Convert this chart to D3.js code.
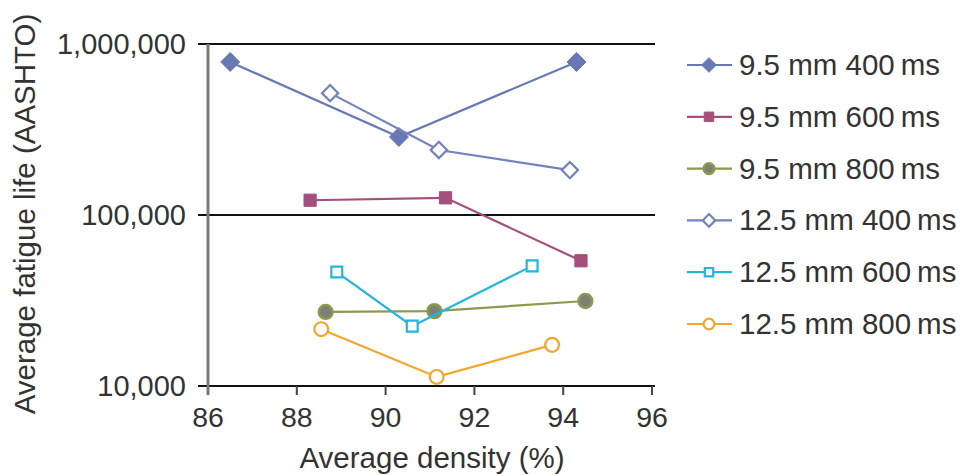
<!DOCTYPE html>
<html>
<head>
<meta charset="utf-8">
<script src="https://cdn.jsdelivr.net/npm/d3@7"></script>
<style>
  body { margin: 0; background: #fff; }
  svg { display: block; font-family: "Liberation Sans", Arial, sans-serif; }
</style>
</head>
<body>
<svg id="chart" width="963" height="475"></svg>
<script>
// series labels and data
var series_names = ["9.5 mm 400\u2009ms", "9.5 mm 600\u2009ms", "9.5 mm 800\u2009ms",
                    "12.5 mm 400\u2009ms", "12.5 mm 600\u2009ms", "12.5 mm 800\u2009ms"];
var density_95_400 = [86.5, 90.3, 94.3];
var life_95_400 = [785000, 286000, 785000];
var density_95_600 = [88.3, 91.35, 94.4];
var life_95_600 = [122000, 126000, 54000];
var density_95_800 = [88.65, 91.1, 94.5];
var life_95_800 = [27100, 27400, 31400];
var density_125_400 = [88.75, 91.2, 94.15];
var life_125_400 = [516000, 240000, 183000];
var density_125_600 = [88.9, 90.6, 93.3];
var life_125_600 = [46400, 22400, 50400];
var density_125_800 = [88.55, 91.15, 93.75];
var life_125_800 = [21500, 11300, 17400];
var x_ticks = [86, 88, 90, 92, 94, 96];
var y_ticks = [10000, 100000, 1000000];

var styles = [
    {color: "#6878b4", shape: d3.symbolDiamond2, fill: true, size: 230},
    {color: "#a44f7c", shape: d3.symbolSquare2, fill: true, size: 190},
    {color: "#8c9a4c", shape: d3.symbolCircle, fill: true, size: 150, inner: "#7d8078"},
    {color: "#7283bd", shape: d3.symbolDiamond2, fill: false, size: 170},
    {color: "#23b6dc", shape: d3.symbolSquare2, fill: false, size: 150},
    {color: "#f5a52c", shape: d3.symbolCircle, fill: false, size: 150}
];

var xs = [density_95_400, density_95_600, density_95_800, density_125_400, density_125_600, density_125_800];
var ys = [life_95_400, life_95_600, life_95_800, life_125_400, life_125_600, life_125_800];
var data = series_names.map((name, i) => ({
    name: name,
    style: styles[i],
    points: xs[i].map((x, j) => ({x: x, y: ys[i][j]}))
}));

var svg = d3.select("#chart");
var x = d3.scaleLinear().domain([86, 96]).range([208, 652]);
var y = d3.scaleLog().domain([10000, 1000000]).range([386, 44]);
var fmt = d3.format(",");

// horizontal gridlines, extending past the y axis as ticks
svg.append("g").selectAll("line")
    .data(y_ticks)
    .join("line")
    .attr("x1", 198).attr("x2", 655)
    .attr("y1", d => y(d)).attr("y2", d => y(d))
    .attr("stroke", "#111").attr("stroke-width", 2);

// y axis line
svg.append("line")
    .attr("x1", x(86)).attr("x2", x(86))
    .attr("y1", y(1000000)).attr("y2", 395)
    .attr("stroke", "#7a7a7a").attr("stroke-width", 3);

// x ticks (downward)
svg.append("g").selectAll("line")
    .data(x_ticks.slice(1))
    .join("line")
    .attr("x1", d => x(d)).attr("x2", d => x(d))
    .attr("y1", y(10000)).attr("y2", 395)
    .attr("stroke", "#444").attr("stroke-width", 2);

svg.append("g").selectAll("text")
    .data(y_ticks)
    .join("text")
    .attr("x", 186).attr("y", d => y(d) + 10)
    .attr("text-anchor", "end")
    .attr("font-size", 29)
    .attr("fill", "#333")
    .text(d => fmt(d));

svg.append("g").selectAll("text")
    .data(x_ticks)
    .join("text")
    .attr("x", d => x(d)).attr("y", 427)
    .attr("text-anchor", "middle")
    .attr("font-size", 28.5)
    .attr("fill", "#333")
    .text(d => d);

svg.append("text")
    .attr("x", 432).attr("y", 468)
    .attr("text-anchor", "middle")
    .attr("font-size", 29.5)
    .attr("fill", "#333")
    .text("Average density (%)");

svg.append("text")
    .attr("transform", "translate(35,214) rotate(-90)")
    .attr("text-anchor", "middle")
    .attr("font-size", 29.5)
    .attr("fill", "#333")
    .text("Average fatigue life (AASHTO)");

var line = d3.line().x(d => x(d.x)).y(d => y(d.y));

function drawMarker(sel, st, scale) {
    sel.attr("d", d3.symbol().type(st.shape).size(st.size * scale))
        .attr("fill", st.fill ? (st.inner || st.color) : "#fff")
        .attr("stroke", st.color)
        .attr("stroke-width", st.fill ? (st.inner ? 2.5 : 1) : 2.2);
}

var groups = svg.append("g").selectAll("g")
    .data(data)
    .join("g");

groups.append("path")
    .attr("d", d => line(d.points))
    .attr("fill", "none")
    .attr("stroke", d => d.style.color)
    .attr("stroke-width", 2.2);

groups.each(function(d) {
    d3.select(this).selectAll("path.mk")
        .data(d.points)
        .join("path")
        .attr("class", "mk")
        .attr("transform", p => `translate(${x(p.x)},${y(p.y)})`)
        .call(drawMarker, d.style, 1);
});

// legend
var legend = svg.append("g").selectAll("g")
    .data(data)
    .join("g")
    .attr("transform", (d, i) => `translate(687,${65 + i * 51.8})`);

legend.append("line")
    .attr("x1", 0).attr("x2", 45)
    .attr("stroke", d => d.style.color).attr("stroke-width", 2.2);

legend.append("path")
    .attr("transform", "translate(22,0)")
    .each(function(d) { d3.select(this).call(drawMarker, d.style, 0.6); });

legend.append("text")
    .attr("x", 52).attr("y", 10)
    .attr("font-size", 29.5)
    .attr("fill", "#333")
    .text(d => d.name);
</script>
</body>
</html>
